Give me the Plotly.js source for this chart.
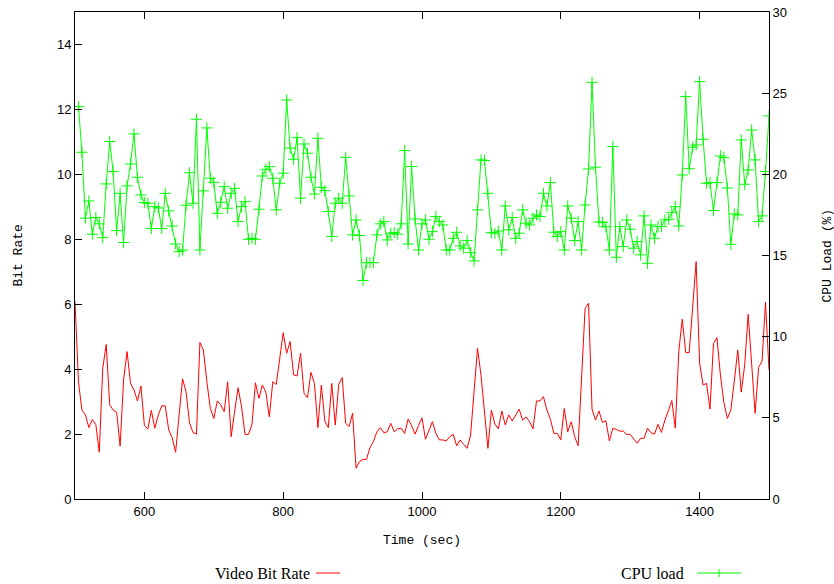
<!DOCTYPE html>
<html>
<head>
<meta charset="utf-8">
<script src="https://cdn.plot.ly/plotly-3.0.1.min.js"></script>
<style>html,body{margin:0;padding:0;background:#fff}#chart{width:834px;height:584px}</style>
</head>
<body>
<div id="chart"></div>
<script>
// Sample times (sec)
const times = [
500,505,510,515,520,525,530,535,540,545,550,555,560,565,570,575,580,585,590,595,
600,605,610,615,620,625,630,635,640,645,650,655,660,665,670,675,680,685,690,695,
700,705,710,715,720,725,730,735,740,745,750,755,760,765,770,775,780,785,790,795,
800,805,810,815,820,825,830,835,840,845,850,855,860,865,870,875,880,885,890,895,
900,905,910,915,920,925,930,935,940,945,950,955,960,965,970,975,980,985,990,995,
1000,1005,1010,1015,1020,1025,1030,1035,1040,1045,1050,1055,1060,1065,1070,1075,1080,1085,1090,1095,
1100,1105,1110,1115,1120,1125,1130,1135,1140,1145,1150,1155,1160,1165,1170,1175,1180,1185,1190,1195,
1200,1205,1210,1215,1220,1225,1230,1235,1240,1245,1250,1255,1260,1265,1270,1275,1280,1285,1290,1295,
1300,1305,1310,1315,1320,1325,1330,1335,1340,1345,1350,1355,1360,1365,1370,1375,1380,1385,1390,1395,
1400,1405,1410,1415,1420,1425,1430,1435,1440,1445,1450,1455,1460,1465,1470,1475,1480,1485,1490,1495,
1500];

// Video bit rate (left axis), one value per time above
const bitRate = [
6.08,3.61,2.74,2.59,2.2,2.45,2.3,1.44,4.03,4.76,2.9,2.74,2.67,1.63,3.67,4.54,3.56,3.36,3.02,3.48,
2.26,2.16,2.73,2.18,2.59,2.87,2.87,2.13,1.89,1.44,2.59,3.7,3.3,2.35,2.05,2.0,4.82,4.59,3.61,2.79,
2.48,3.02,2.9,2.69,3.61,1.92,2.69,3.43,2.84,1.99,1.99,2.3,3.58,3.1,3.51,3.29,2.53,3.61,3.53,4.38,
5.12,4.49,4.85,3.82,3.79,4.49,3.26,3.12,3.9,3.56,2.2,3.51,2.4,2.2,3.56,2.28,3.53,3.74,2.33,2.23,
2.64,0.95,1.15,1.22,1.22,1.58,1.77,2.07,2.2,2.04,2.07,2.33,2.07,2.16,2.18,2.02,2.46,2.26,2.0,2.26,
2.5,1.84,2.13,2.38,2.02,1.82,1.82,1.79,1.92,1.99,1.64,1.82,1.68,1.56,1.97,3.2,4.64,3.82,2.76,1.56,
2.74,2.31,2.16,2.71,2.28,2.59,2.4,2.61,2.77,2.43,2.53,2.38,2.16,3.02,3.02,3.15,2.74,2.46,2.02,2.02,
1.82,2.79,2.07,2.38,1.92,1.64,3.75,5.87,6.03,2.77,2.43,2.71,2.36,2.41,1.79,2.18,2.14,2.09,2.09,1.99,
1.99,1.87,1.72,1.87,1.87,2.18,2.04,2.0,2.3,2.05,2.43,2.72,3.03,2.18,4.54,5.54,4.51,4.51,5.9,7.31,
4.18,3.51,3.56,2.77,4.79,4.97,3.82,2.97,2.48,2.74,3.63,4.59,3.29,4.13,5.69,4.08,2.64,4.05,4.25,6.06,
3.97];

// CPU load (%) (right axis), sampled from 505 s onward
const cpuTimes = times.slice(1);
const cpuLoad = [
24.17,21.36,17.3,18.36,16.31,17.34,16.95,16.1,19.41,22.02,20.17,16.53,18.83,15.8,19.29,20.64,22.49,19.82,18.73,18.26,
18.22,16.66,18.01,17.93,16.66,18.83,17.75,16.82,15.71,15.24,15.34,18.1,20.1,18.22,23.39,15.34,18.98,22.86,19.76,19.51,
17.6,18.28,19.24,17.91,18.83,19.14,17.09,18.01,18.32,16.0,16.06,16.0,17.85,19.9,20.31,20.48,19.76,17.81,19.45,20.07,
24.58,21.61,20.93,22.26,18.53,21.87,21.3,19.82,18.79,22.22,19.2,19.0,17.71,16.17,18.22,18.53,18.22,21.05,18.67,16.27,
17.19,16.23,13.46,14.56,14.56,14.56,16.27,16.95,17.09,15.96,16.37,16.41,16.31,16.95,21.46,15.71,20.48,17.25,15.34,16.95,
17.19,16.0,16.47,17.4,17.09,16.88,15.34,15.34,16.06,16.43,15.59,15.45,15.92,15.18,14.67,17.81,20.89,20.85,18.83,16.41,
16.37,16.51,15.34,18.05,16.58,17.34,16.06,16.37,17.81,16.99,16.88,17.3,17.5,17.4,18.83,18.05,19.49,16.43,16.17,16.47,
15.34,18.05,17.3,15.92,17.09,15.34,18.11,20.33,25.67,20.44,17.07,17.03,16.78,15.34,21.71,14.89,16.78,15.55,17.19,16.62,
15.45,15.86,15.04,17.44,14.52,16.88,16.06,16.78,16.78,17.19,17.23,17.64,18.01,16.82,19.96,24.79,20.35,21.67,21.81,25.71,
22.16,19.45,19.49,17.77,19.49,21.13,21.03,19.16,15.69,17.56,17.5,22.12,19.39,20.27,22.73,20.89,17.09,17.44,20.17,23.6];

const xTicks = [600, 800, 1000, 1200, 1400];
const yTicks = [0, 2, 4, 6, 8, 10, 12, 14];
const y2Ticks = [0, 5, 10, 15, 20, 25, 30];
const seriesNames = ['Video Bit Rate', 'CPU load'];
const axisTitles = {x: 'Time (sec)', y: 'Bit Rate', y2: 'CPU Load (%)'};

const tickFont = {family: 'Liberation Sans, Arial, sans-serif', size: 13, color: '#000'};
const monoFont = {family: 'Liberation Mono, Courier New, monospace', size: 13, color: '#000'};
const serifFont = {family: 'Liberation Serif, Times New Roman, serif', size: 16, color: '#000'};

const traces = [
  {x: times, y: bitRate, type: 'scatter', mode: 'lines', name: seriesNames[0],
   line: {color: '#ff0000', width: 1}, yaxis: 'y'},
  {x: cpuTimes, y: cpuLoad, type: 'scatter', mode: 'lines+markers', name: seriesNames[1],
   line: {color: '#00ff00', width: 1},
   marker: {symbol: 'cross-thin', size: 8, line: {color: '#00ff00', width: 1}},
   yaxis: 'y2'}
];

const legY = -0.152;
const layout = {
  width: 834, height: 584,
  margin: {l: 75, r: 65, t: 12, b: 85},
  paper_bgcolor: '#fff', plot_bgcolor: '#fff',
  showlegend: false,
  xaxis: {range: [500, 1500], tickvals: xTicks, ticktext: xTicks.map(String),
    ticks: 'inside', ticklen: 7, tickcolor: '#000', tickwidth: 1,
    showline: true, linecolor: '#000', linewidth: 1, mirror: 'ticks',
    showgrid: false, zeroline: false, tickfont: tickFont},
  yaxis: {range: [0, 15], tickvals: yTicks, ticktext: yTicks.map(String),
    ticks: 'inside', ticklen: 7, tickcolor: '#000', tickwidth: 1,
    showline: true, linecolor: '#000', linewidth: 1,
    showgrid: false, zeroline: false, tickfont: tickFont},
  yaxis2: {range: [0, 30], tickvals: y2Ticks, ticktext: y2Ticks.map(String),
    overlaying: 'y', side: 'right',
    ticks: 'inside', ticklen: 7, tickcolor: '#000', tickwidth: 1,
    showline: true, linecolor: '#000', linewidth: 1,
    showgrid: false, zeroline: false, tickfont: tickFont},
  annotations: [
    {text: axisTitles.y, xref: 'paper', yref: 'paper', x: -0.082, y: 0.5, textangle: -90,
     showarrow: false, font: monoFont, xanchor: 'center', yanchor: 'middle'},
    {text: axisTitles.x, xref: 'paper', yref: 'paper', x: 0.5, y: -0.086,
     showarrow: false, font: monoFont, xanchor: 'center', yanchor: 'middle'},
    {text: axisTitles.y2, xref: 'paper', yref: 'paper', x: 1.085, y: 0.5, textangle: -90,
     showarrow: false, font: monoFont, xanchor: 'center', yanchor: 'middle'},
    {text: seriesNames[0], xref: 'paper', yref: 'paper', x: 0.3415, y: legY,
     showarrow: false, font: serifFont, xanchor: 'right', yanchor: 'middle'},
    {text: seriesNames[1], xref: 'paper', yref: 'paper', x: 0.880, y: legY,
     showarrow: false, font: serifFont, xanchor: 'right', yanchor: 'middle'}
  ],
  shapes: [
    {type: 'line', xref: 'paper', yref: 'paper', x0: 0.347, x1: 0.382, y0: legY, y1: legY,
     line: {color: '#ff0000', width: 1}},
    {type: 'line', xref: 'paper', yref: 'paper', x0: 0.896, x1: 0.960, y0: legY, y1: legY,
     line: {color: '#00ff00', width: 1}},
    {type: 'line', xref: 'paper', yref: 'paper', x0: 0.928, x1: 0.928, y0: legY - 0.0082, y1: legY + 0.0082,
     line: {color: '#00ff00', width: 1}}
  ]
};

Plotly.newPlot('chart', traces, layout, {displayModeBar: false, staticPlot: true});
</script>
</body>
</html>
